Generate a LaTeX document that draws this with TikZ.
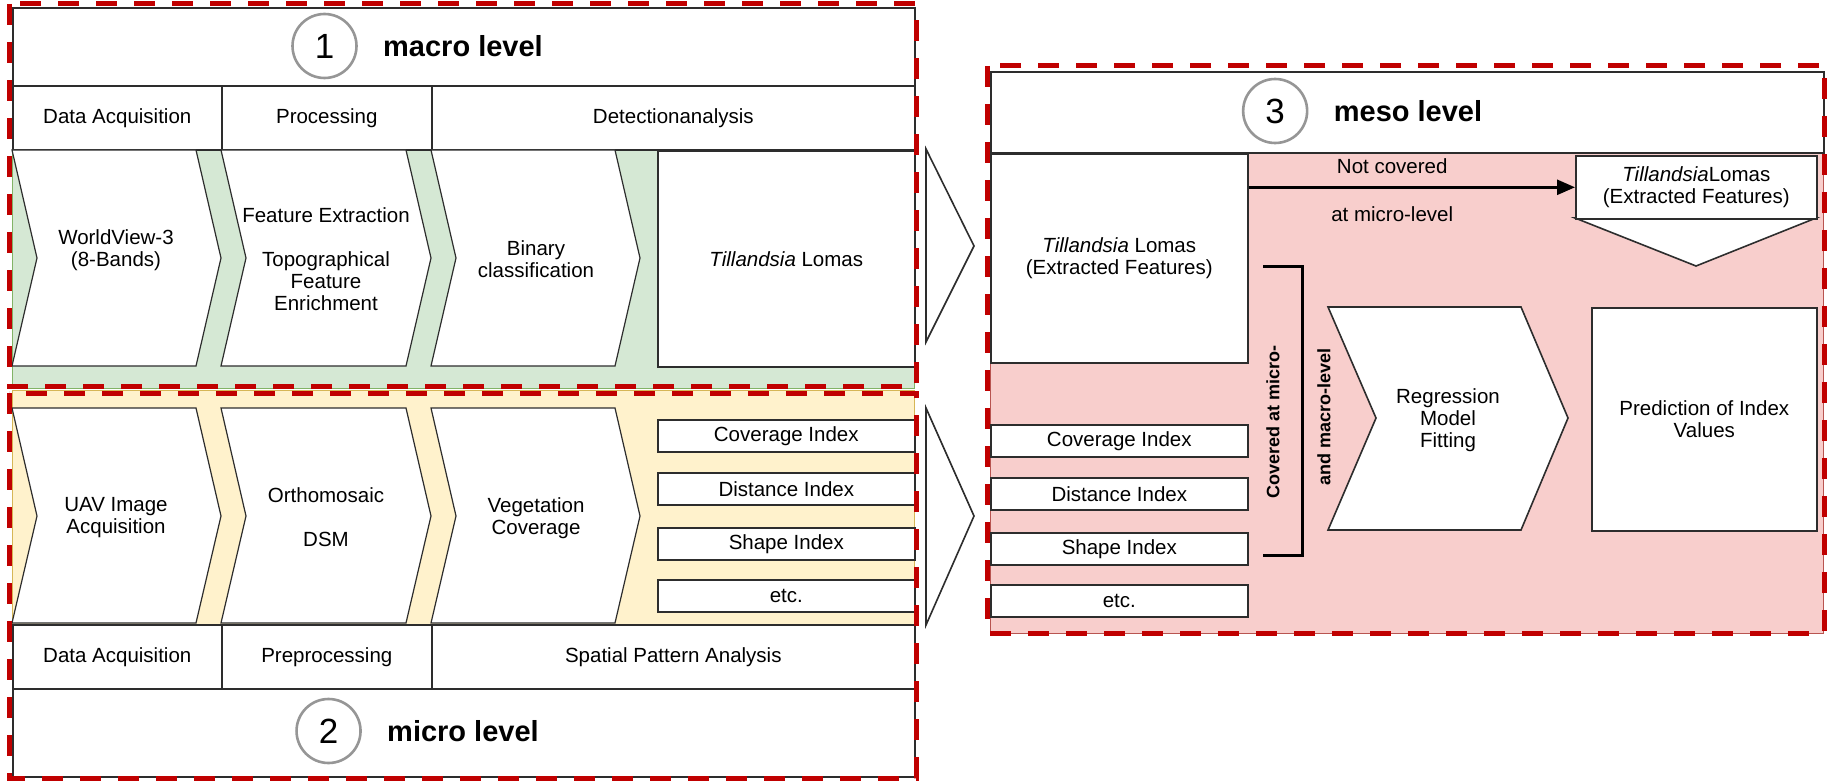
\documentclass[tikz,border=0pt]{standalone}
\usepackage{fontspec}
\setmainfont{Liberation Sans}
\usepackage{xcolor}
\usetikzlibrary{arrows.meta,positioning}
\definecolor{dashred}{RGB}{192,0,0}
\definecolor{macrogreen}{HTML}{D5E8D4}
\definecolor{macrogreenline}{HTML}{82B366}
\definecolor{microyellow}{HTML}{FFF2CC}
\definecolor{microyellowline}{HTML}{D6B656}
\definecolor{mesored}{HTML}{F8CECC}
\definecolor{mesoredline}{HTML}{B85450}
\definecolor{ringgray}{RGB}{150,150,150}
\definecolor{inkgray}{RGB}{45,45,45}
\tikzset{
	levelframe/.style={draw=dashred,line width=2.5pt,dash pattern=on 10.5pt off 8.5pt},%
	cell/.style={draw=inkgray,line width=0.8pt,fill=white,inner sep=0pt,anchor=north west,align=center},%
	chev/.style={draw=inkgray,line width=0.6pt,fill=white},%
	leveltitle/.style={font=\fontsize{14.5}{17}\selectfont\bfseries,inner sep=0pt},%
	levelnum/.style={draw=ringgray,line width=1.3pt,circle,minimum size=32pt,inner sep=0pt,font=\fontsize{17.5}{20}\selectfont},%
	lbl/.style={align=center,inner sep=0pt},%
	bracetext/.style={rotate=90,font=\fontsize{9}{10}\selectfont\bfseries,inner sep=0pt},%
	flowarrow/.style={-{Triangle[length=9pt,width=7.5pt]},line width=1.3pt},%
}
\def\chevtip{25}

\begin{document}
\begin{tikzpicture}[x=0.5pt,y=-0.5pt,font=\fontsize{10.25}{11}\selectfont]
	\fill[white] (0,0) rectangle (1829,780);
	% macro level
	\draw[fill=macrogreen,draw=macrogreenline] (12,150) rectangle (914,388);
	\node[cell,minimum width=451pt,minimum height=39pt] (macrohead) at (12,7) {};
	\node[leveltitle] (macrotitle) at (463,46) {macro level};
	\node[levelnum,left=12.5pt of macrotitle] (macronum) {1};
	\node[cell,minimum width=104.5pt,minimum height=32pt] (macroacq) at (12,85) {Data Acquisition};
	\node[cell,minimum width=105pt,minimum height=32pt] (macroproc) at (221,85) {Processing};
	\node[cell,minimum width=241.5pt,minimum height=32pt] (macrodet) at (431,85) {Detectionanalysis};
	\foreach \xl/\xr in {12/196,221/406,431/615}{
		\draw[chev] (\xl,150) -- (\xr,150) -- (\xr+\chevtip,258) -- (\xr,366) -- (\xl,366) -- (\xl+\chevtip,258) -- cycle;
	}
	\node[lbl] (wv) at (116,250) {WorldView-3\\(8-Bands)};
	\node[lbl] (featx) at (326,259) {Feature Extraction\\[11pt]Topographical\\Feature\\Enrichment};
	\node[lbl] (binclass) at (536,259) {Binary\\classification};
	\node[cell,minimum width=128.5pt,minimum height=108pt] (macrotill) at (657,150) {\textit{Tillandsia} Lomas};
	% micro level
	\draw[fill=microyellow,draw=microyellowline] (12,390) rectangle (914,624);
	\foreach \xl/\xr in {12/196,221/406,431/615}{
		\draw[chev] (\xl,408) -- (\xr,408) -- (\xr+\chevtip,516) -- (\xr,623) -- (\xl,623) -- (\xl+\chevtip,516) -- cycle;
	}
	\node[lbl] (uav) at (116,518) {UAV Image\\Acquisition};
	\node[lbl] (ortho) at (326,517) {Orthomosaic\\[11pt]DSM};
	\node[lbl] (vegcov) at (536,518) {Vegetation\\Coverage};
	\node[cell,minimum width=128.5pt,minimum height=16pt] (micocov) at (657,419) {Coverage Index};
	\node[cell,minimum width=128.5pt,minimum height=16pt] (micodist) at (657,472) {Distance Index};
	\node[cell,minimum width=128.5pt,minimum height=16pt] (micoshape) at (657,527) {Shape Index};
	\node[cell,minimum width=128.5pt,minimum height=16pt] (micoetc) at (657,579) {etc.};
	\node[cell,minimum width=104.5pt,minimum height=32pt] (microacq) at (12,624) {Data Acquisition};
	\node[cell,minimum width=105pt,minimum height=32pt] (micropre) at (221,624) {Preprocessing};
	\node[cell,minimum width=241.5pt,minimum height=32pt] (microspat) at (431,624) {Spatial Pattern Analysis};
	\node[cell,minimum width=451pt,minimum height=44pt] (microhead) at (12,688) {};
	\node[leveltitle] (microtitle) at (463,731) {micro level};
	\node[levelnum,left=12.5pt of microtitle] (micronum) {2};
	% arrows between levels
	\draw[chev,line width=0.8pt] (926,149) -- (974,246) -- (926,342) -- cycle;
	\draw[chev,line width=0.8pt] (926,408) -- (974,516) -- (926,625) -- cycle;
	% meso level
	\draw[fill=mesored,draw=mesoredline] (990,152) rectangle (1823,633);
	\node[cell,minimum width=416.5pt,minimum height=40.5pt] (mesohead) at (990,71) {};
	\node[leveltitle] (mesotitle) at (1408,111) {meso level};
	\node[levelnum,left=12.5pt of mesotitle] (mesonum) {3};
	\node[cell,minimum width=128.5pt,minimum height=104.5pt] (mesofeat) at (990,153) {\textit{Tillandsia} Lomas\\(Extracted Features)};
	\node[cell,minimum width=128.5pt,minimum height=16pt] (mesocov) at (990,424) {Coverage Index};
	\node[cell,minimum width=128.5pt,minimum height=16pt] (mesodist) at (990,477) {Distance Index};
	\node[cell,minimum width=128.5pt,minimum height=16pt] (mesoshape) at (990,532) {Shape Index};
	\node[cell,minimum width=128.5pt,minimum height=16pt] (mesoetc) at (990,584) {etc.};
	\draw[chev,line width=0.8pt] (1575,218) -- (1816,218) -- (1696,266) -- cycle;
	\node[cell,minimum width=120.5pt,minimum height=31.5pt] (mesouncov) at (1575,155) {\textit{Tillandsia}Lomas\\(Extracted Features)};
	\draw[flowarrow] (mesofeat.east |- mesouncov.west) -- (mesouncov.west)
		node[pos=0.44,above=6pt,inner sep=0pt] (notcov) {Not covered}
		node[pos=0.44,below=9pt,inner sep=0pt] (atmicro) {at micro-level};
	\draw[line width=1.5pt] (1263,266) -- (1302,266) -- (1302,555) -- (1263,555);
	\node[bracetext] (covmicro) at (1273,422) {Covered at micro-};
	\node[bracetext] (covmacro) at (1324,417) {and macro-level};
	\draw[chev,line width=0.8pt] (1328,307) -- (1521,307) -- (1568,418) -- (1521,530) -- (1328,530) -- (1376,418) -- cycle;
	\node[lbl] (regfit) at (1448,420) {Regression\\Model\\Fitting};
	\node[cell,minimum width=112.5pt,minimum height=111.5pt] (predict) at (1591,307) {Prediction of Index\\Values};
	% frames
	\draw[levelframe] (9,4) rectangle (916,386);
	\draw[levelframe] (9,393) rectangle (916,778);
	\draw[levelframe] (987,66) rectangle (1824,633);
\end{tikzpicture}
\end{document}
